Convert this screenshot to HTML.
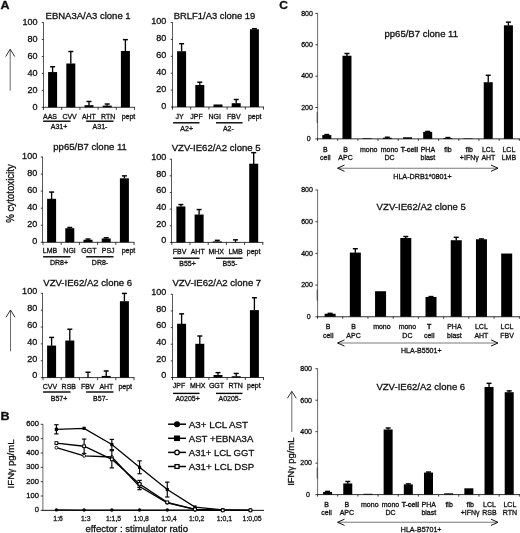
<!DOCTYPE html>
<html><head><meta charset="utf-8"><title>Figure</title>
<style>html,body{margin:0;padding:0;background:#fff}svg{display:block;filter:blur(0.42px)}text{stroke:#111;stroke-width:0.3px}</style></head><body>
<svg width="520" height="533" viewBox="0 0 520 533" font-family="&quot;Liberation Sans&quot;, sans-serif">
<rect width="520" height="533" fill="#fff"/>
<text x="0" y="0" font-size="10.7" font-weight="bold" fill="#111"  transform="translate(0.5,9.3) scale(1.17,1)">A</text>
<text x="0" y="0" font-size="10.7" font-weight="bold" fill="#111"  transform="translate(0.5,420.0) scale(1.17,1)">B</text>
<text x="0" y="0" font-size="10.7" font-weight="bold" fill="#111"  transform="translate(279.3,9.0) scale(1.12,1)">C</text>
<line x1="43.5" y1="22.3" x2="43.5" y2="107.7" stroke="#222" stroke-width="0.75" />
<line x1="43.1" y1="107.3" x2="135.0" y2="107.3" stroke="#1a1a1a" stroke-width="0.85" />
<line x1="41.8" y1="107.3" x2="43.5" y2="107.3" stroke="#111" stroke-width="0.8" />
<text x="0" y="0" font-size="8.7" text-anchor="end" fill="#111"  transform="translate(37.5,109.5) scale(1.04,1)">0</text>
<line x1="41.8" y1="90.36" x2="43.5" y2="90.36" stroke="#111" stroke-width="0.8" />
<text x="0" y="0" font-size="8.7" text-anchor="end" fill="#111"  transform="translate(37.5,92.56) scale(1.04,1)">20</text>
<line x1="41.8" y1="73.42" x2="43.5" y2="73.42" stroke="#111" stroke-width="0.8" />
<text x="0" y="0" font-size="8.7" text-anchor="end" fill="#111"  transform="translate(37.5,75.62) scale(1.04,1)">40</text>
<line x1="41.8" y1="56.480000000000004" x2="43.5" y2="56.480000000000004" stroke="#111" stroke-width="0.8" />
<text x="0" y="0" font-size="8.7" text-anchor="end" fill="#111"  transform="translate(37.5,58.68000000000001) scale(1.04,1)">60</text>
<line x1="41.8" y1="39.540000000000006" x2="43.5" y2="39.540000000000006" stroke="#111" stroke-width="0.8" />
<text x="0" y="0" font-size="8.7" text-anchor="end" fill="#111"  transform="translate(37.5,41.74000000000001) scale(1.04,1)">80</text>
<line x1="41.8" y1="22.60000000000001" x2="43.5" y2="22.60000000000001" stroke="#111" stroke-width="0.8" />
<text x="0" y="0" font-size="8.7" text-anchor="end" fill="#111"  transform="translate(37.5,24.800000000000008) scale(1.04,1)">100</text>
<line x1="43.5" y1="107.3" x2="43.5" y2="109.89999999999999" stroke="#111" stroke-width="0.8" />
<line x1="61.7" y1="107.3" x2="61.7" y2="109.89999999999999" stroke="#111" stroke-width="0.8" />
<line x1="79.9" y1="107.3" x2="79.9" y2="109.89999999999999" stroke="#111" stroke-width="0.8" />
<line x1="98.1" y1="107.3" x2="98.1" y2="109.89999999999999" stroke="#111" stroke-width="0.8" />
<line x1="116.3" y1="107.3" x2="116.3" y2="109.89999999999999" stroke="#111" stroke-width="0.8" />
<line x1="134.5" y1="107.3" x2="134.5" y2="109.89999999999999" stroke="#111" stroke-width="0.8" />
<text x="45.6" y="18.8" font-size="9.0" textLength="85" lengthAdjust="spacingAndGlyphs" fill="#111" >EBNA3A/A3 clone 1</text>
<rect x="48.10" y="72.06" width="9.00" height="35.24" fill="#000"/>
<line x1="52.6" y1="72.2648" x2="52.6" y2="66.644" stroke="#000" stroke-width="1.35" />
<line x1="50.1" y1="66.744" x2="55.1" y2="66.744" stroke="#000" stroke-width="1.45" />
<rect x="66.30" y="63.51" width="9.00" height="43.79" fill="#000"/>
<line x1="70.8" y1="63.710100000000004" x2="70.8" y2="51.398" stroke="#000" stroke-width="1.35" />
<line x1="68.3" y1="51.498000000000005" x2="73.3" y2="51.498000000000005" stroke="#000" stroke-width="1.45" />
<rect x="84.50" y="105.18" width="9.00" height="2.12" fill="#000"/>
<line x1="89.0" y1="105.38250000000001" x2="89.0" y2="101.371" stroke="#000" stroke-width="1.35" />
<line x1="86.5" y1="101.47099999999999" x2="91.5" y2="101.47099999999999" stroke="#000" stroke-width="1.45" />
<rect x="102.70" y="105.61" width="9.00" height="1.69" fill="#000"/>
<line x1="107.19999999999999" y1="105.806" x2="107.19999999999999" y2="103.91199999999999" stroke="#000" stroke-width="1.35" />
<line x1="104.69999999999999" y1="104.01199999999999" x2="109.69999999999999" y2="104.01199999999999" stroke="#000" stroke-width="1.45" />
<rect x="120.90" y="50.97" width="9.00" height="56.33" fill="#000"/>
<line x1="125.39999999999999" y1="51.17450000000001" x2="125.39999999999999" y2="39.540000000000006" stroke="#000" stroke-width="1.35" />
<line x1="122.89999999999999" y1="39.64000000000001" x2="127.89999999999999" y2="39.64000000000001" stroke="#000" stroke-width="1.45" />
<text x="50" y="119" font-size="7" text-anchor="middle" fill="#111" >AAS</text>
<text x="69.6" y="119" font-size="7" text-anchor="middle" fill="#111" >CVV</text>
<text x="88.9" y="119" font-size="7" text-anchor="middle" fill="#111" >AHT</text>
<text x="108.2" y="119" font-size="7" text-anchor="middle" fill="#111" >RTN</text>
<text x="128.5" y="119" font-size="7" text-anchor="middle" fill="#111" >pept</text>
<line x1="43.1" y1="121.2" x2="70.5" y2="121.2" stroke="#000" stroke-width="1.4" />
<text x="59" y="129" font-size="7" text-anchor="middle" fill="#111" >A31+</text>
<line x1="86.1" y1="121.2" x2="113.5" y2="121.2" stroke="#000" stroke-width="1.4" />
<text x="100" y="129" font-size="7" text-anchor="middle" fill="#111" >A31-</text>
<line x1="172.5" y1="22.2" x2="172.5" y2="107.4" stroke="#222" stroke-width="0.75" />
<line x1="172.1" y1="107" x2="264.0" y2="107" stroke="#1a1a1a" stroke-width="0.85" />
<line x1="170.8" y1="107.0" x2="172.5" y2="107.0" stroke="#111" stroke-width="0.8" />
<text x="0" y="0" font-size="8.7" text-anchor="end" fill="#111"  transform="translate(166.4,108.60000000000001) scale(1.04,1)">0</text>
<line x1="170.8" y1="90.1" x2="172.5" y2="90.1" stroke="#111" stroke-width="0.8" />
<text x="0" y="0" font-size="8.7" text-anchor="end" fill="#111"  transform="translate(166.4,91.7) scale(1.04,1)">20</text>
<line x1="170.8" y1="73.2" x2="172.5" y2="73.2" stroke="#111" stroke-width="0.8" />
<text x="0" y="0" font-size="8.7" text-anchor="end" fill="#111"  transform="translate(166.4,74.80000000000001) scale(1.04,1)">40</text>
<line x1="170.8" y1="56.300000000000004" x2="172.5" y2="56.300000000000004" stroke="#111" stroke-width="0.8" />
<text x="0" y="0" font-size="8.7" text-anchor="end" fill="#111"  transform="translate(166.4,57.900000000000006) scale(1.04,1)">60</text>
<line x1="170.8" y1="39.400000000000006" x2="172.5" y2="39.400000000000006" stroke="#111" stroke-width="0.8" />
<text x="0" y="0" font-size="8.7" text-anchor="end" fill="#111"  transform="translate(166.4,41.00000000000001) scale(1.04,1)">80</text>
<line x1="170.8" y1="22.5" x2="172.5" y2="22.5" stroke="#111" stroke-width="0.8" />
<text x="0" y="0" font-size="8.7" text-anchor="end" fill="#111"  transform="translate(166.4,24.099999999999998) scale(1.04,1)">100</text>
<line x1="172.5" y1="107" x2="172.5" y2="109.6" stroke="#111" stroke-width="0.8" />
<line x1="190.7" y1="107" x2="190.7" y2="109.6" stroke="#111" stroke-width="0.8" />
<line x1="208.9" y1="107" x2="208.9" y2="109.6" stroke="#111" stroke-width="0.8" />
<line x1="227.1" y1="107" x2="227.1" y2="109.6" stroke="#111" stroke-width="0.8" />
<line x1="245.3" y1="107" x2="245.3" y2="109.6" stroke="#111" stroke-width="0.8" />
<line x1="263.5" y1="107" x2="263.5" y2="109.6" stroke="#111" stroke-width="0.8" />
<text x="173.8" y="18.8" font-size="9.0" textLength="81.5" lengthAdjust="spacingAndGlyphs" fill="#111" >BRLF1/A3 clone 19</text>
<rect x="177.10" y="51.23" width="9.00" height="55.77" fill="#000"/>
<line x1="181.6" y1="51.43000000000001" x2="181.6" y2="43.625" stroke="#000" stroke-width="1.35" />
<line x1="179.1" y1="43.725" x2="184.1" y2="43.725" stroke="#000" stroke-width="1.45" />
<rect x="195.30" y="85.03" width="9.00" height="21.97" fill="#000"/>
<line x1="199.8" y1="85.23" x2="199.8" y2="82.0725" stroke="#000" stroke-width="1.35" />
<line x1="197.3" y1="82.1725" x2="202.3" y2="82.1725" stroke="#000" stroke-width="1.45" />
<rect x="213.50" y="104.47" width="9.00" height="2.53" fill="#000"/>
<rect x="231.70" y="103.20" width="9.00" height="3.80" fill="#000"/>
<line x1="236.2" y1="103.39750000000001" x2="236.2" y2="99.395" stroke="#000" stroke-width="1.35" />
<line x1="233.7" y1="99.49499999999999" x2="238.7" y2="99.49499999999999" stroke="#000" stroke-width="1.45" />
<rect x="249.90" y="29.26" width="9.00" height="77.74" fill="#000"/>
<line x1="254.39999999999998" y1="29.460000000000004" x2="254.39999999999998" y2="28.584000000000003" stroke="#000" stroke-width="1.35" />
<line x1="251.89999999999998" y1="28.684000000000005" x2="256.9" y2="28.684000000000005" stroke="#000" stroke-width="1.45" />
<text x="179.7" y="119.4" font-size="7" text-anchor="middle" fill="#111" >JY</text>
<text x="196.5" y="119.4" font-size="7" text-anchor="middle" fill="#111" >JPF</text>
<text x="214.8" y="119.4" font-size="7" text-anchor="middle" fill="#111" >NGI</text>
<text x="233.8" y="119.4" font-size="7" text-anchor="middle" fill="#111" >FBV</text>
<text x="254.7" y="119.4" font-size="7" text-anchor="middle" fill="#111" >pept</text>
<line x1="173.1" y1="122.8" x2="199.5" y2="122.8" stroke="#000" stroke-width="1.4" />
<text x="186.7" y="130.5" font-size="7" text-anchor="middle" fill="#111" >A2+</text>
<line x1="216.0" y1="122.8" x2="242.5" y2="122.8" stroke="#000" stroke-width="1.4" />
<text x="228.4" y="130.5" font-size="7" text-anchor="middle" fill="#111" >A2-</text>
<line x1="42.5" y1="156.7" x2="42.5" y2="242.70000000000002" stroke="#222" stroke-width="0.75" />
<line x1="42.1" y1="242.3" x2="134.5" y2="242.3" stroke="#1a1a1a" stroke-width="0.85" />
<line x1="40.8" y1="242.3" x2="42.5" y2="242.3" stroke="#111" stroke-width="0.8" />
<text x="0" y="0" font-size="8.7" text-anchor="end" fill="#111"  transform="translate(37.2,244.1) scale(1.04,1)">0</text>
<line x1="40.8" y1="225.24" x2="42.5" y2="225.24" stroke="#111" stroke-width="0.8" />
<text x="0" y="0" font-size="8.7" text-anchor="end" fill="#111"  transform="translate(37.2,227.04) scale(1.04,1)">20</text>
<line x1="40.8" y1="208.18" x2="42.5" y2="208.18" stroke="#111" stroke-width="0.8" />
<text x="0" y="0" font-size="8.7" text-anchor="end" fill="#111"  transform="translate(37.2,209.98) scale(1.04,1)">40</text>
<line x1="40.8" y1="191.12" x2="42.5" y2="191.12" stroke="#111" stroke-width="0.8" />
<text x="0" y="0" font-size="8.7" text-anchor="end" fill="#111"  transform="translate(37.2,192.92) scale(1.04,1)">60</text>
<line x1="40.8" y1="174.06" x2="42.5" y2="174.06" stroke="#111" stroke-width="0.8" />
<text x="0" y="0" font-size="8.7" text-anchor="end" fill="#111"  transform="translate(37.2,175.85999999999999) scale(1.04,1)">80</text>
<line x1="40.8" y1="157.0" x2="42.5" y2="157.0" stroke="#111" stroke-width="0.8" />
<text x="0" y="0" font-size="8.7" text-anchor="end" fill="#111"  transform="translate(37.2,158.79999999999998) scale(1.04,1)">100</text>
<line x1="43.0" y1="242.3" x2="43.0" y2="244.9" stroke="#111" stroke-width="0.8" />
<line x1="61.2" y1="242.3" x2="61.2" y2="244.9" stroke="#111" stroke-width="0.8" />
<line x1="79.4" y1="242.3" x2="79.4" y2="244.9" stroke="#111" stroke-width="0.8" />
<line x1="97.6" y1="242.3" x2="97.6" y2="244.9" stroke="#111" stroke-width="0.8" />
<line x1="115.8" y1="242.3" x2="115.8" y2="244.9" stroke="#111" stroke-width="0.8" />
<line x1="134.0" y1="242.3" x2="134.0" y2="244.9" stroke="#111" stroke-width="0.8" />
<text x="53.3" y="150" font-size="9.0" textLength="73.5" lengthAdjust="spacingAndGlyphs" fill="#111" >pp65/B7 clone 11</text>
<rect x="47.10" y="198.80" width="9.00" height="43.50" fill="#000"/>
<line x1="51.6" y1="198.99699999999999" x2="51.6" y2="191.973" stroke="#000" stroke-width="1.35" />
<line x1="49.1" y1="192.073" x2="54.1" y2="192.073" stroke="#000" stroke-width="1.45" />
<rect x="65.30" y="228.23" width="9.00" height="14.07" fill="#000"/>
<line x1="69.8" y1="228.4255" x2="69.8" y2="227.3725" stroke="#000" stroke-width="1.35" />
<line x1="67.3" y1="227.4725" x2="72.3" y2="227.4725" stroke="#000" stroke-width="1.45" />
<rect x="83.50" y="239.74" width="9.00" height="2.56" fill="#000"/>
<line x1="88.0" y1="239.941" x2="88.0" y2="238.888" stroke="#000" stroke-width="1.35" />
<line x1="85.5" y1="238.988" x2="90.5" y2="238.988" stroke="#000" stroke-width="1.45" />
<rect x="101.70" y="238.46" width="9.00" height="3.84" fill="#000"/>
<line x1="106.19999999999999" y1="238.6615" x2="106.19999999999999" y2="237.60850000000002" stroke="#000" stroke-width="1.35" />
<line x1="103.69999999999999" y1="237.70850000000002" x2="108.69999999999999" y2="237.70850000000002" stroke="#000" stroke-width="1.45" />
<rect x="119.90" y="178.32" width="9.00" height="63.98" fill="#000"/>
<line x1="124.39999999999999" y1="178.52499999999998" x2="124.39999999999999" y2="175.76600000000002" stroke="#000" stroke-width="1.35" />
<line x1="121.89999999999999" y1="175.866" x2="126.89999999999999" y2="175.866" stroke="#000" stroke-width="1.45" />
<text x="50" y="253.3" font-size="7" text-anchor="middle" fill="#111" >LMB</text>
<text x="69.6" y="253.3" font-size="7" text-anchor="middle" fill="#111" >NGI</text>
<text x="88.9" y="253.3" font-size="7" text-anchor="middle" fill="#111" >GGT</text>
<text x="108.2" y="253.3" font-size="7" text-anchor="middle" fill="#111" >PSJ</text>
<text x="128.5" y="253.3" font-size="7" text-anchor="middle" fill="#111" >pept</text>
<line x1="43.1" y1="256.8" x2="70.5" y2="256.8" stroke="#000" stroke-width="1.4" />
<text x="59" y="264.6" font-size="7" text-anchor="middle" fill="#111" >DR8+</text>
<line x1="86.1" y1="256.8" x2="113.5" y2="256.8" stroke="#000" stroke-width="1.4" />
<text x="100" y="264.6" font-size="7" text-anchor="middle" fill="#111" >DR8-</text>
<line x1="171.5" y1="158.89999999999998" x2="171.5" y2="242.8" stroke="#222" stroke-width="0.75" />
<line x1="171.1" y1="242.4" x2="263.3" y2="242.4" stroke="#1a1a1a" stroke-width="0.85" />
<line x1="169.8" y1="242.4" x2="171.5" y2="242.4" stroke="#111" stroke-width="0.8" />
<text x="0" y="0" font-size="8.7" text-anchor="end" fill="#111"  transform="translate(166.3,243.4) scale(1.04,1)">0</text>
<line x1="169.8" y1="225.76" x2="171.5" y2="225.76" stroke="#111" stroke-width="0.8" />
<text x="0" y="0" font-size="8.7" text-anchor="end" fill="#111"  transform="translate(166.3,226.76) scale(1.04,1)">20</text>
<line x1="169.8" y1="209.12" x2="171.5" y2="209.12" stroke="#111" stroke-width="0.8" />
<text x="0" y="0" font-size="8.7" text-anchor="end" fill="#111"  transform="translate(166.3,210.12) scale(1.04,1)">40</text>
<line x1="169.8" y1="192.48" x2="171.5" y2="192.48" stroke="#111" stroke-width="0.8" />
<text x="0" y="0" font-size="8.7" text-anchor="end" fill="#111"  transform="translate(166.3,193.48) scale(1.04,1)">60</text>
<line x1="169.8" y1="175.83999999999997" x2="171.5" y2="175.83999999999997" stroke="#111" stroke-width="0.8" />
<text x="0" y="0" font-size="8.7" text-anchor="end" fill="#111"  transform="translate(166.3,176.83999999999997) scale(1.04,1)">80</text>
<line x1="169.8" y1="159.2" x2="171.5" y2="159.2" stroke="#111" stroke-width="0.8" />
<text x="0" y="0" font-size="8.7" text-anchor="end" fill="#111"  transform="translate(166.3,160.2) scale(1.04,1)">100</text>
<line x1="171.8" y1="242.4" x2="171.8" y2="245.0" stroke="#111" stroke-width="0.8" />
<line x1="190.0" y1="242.4" x2="190.0" y2="245.0" stroke="#111" stroke-width="0.8" />
<line x1="208.20000000000002" y1="242.4" x2="208.20000000000002" y2="245.0" stroke="#111" stroke-width="0.8" />
<line x1="226.4" y1="242.4" x2="226.4" y2="245.0" stroke="#111" stroke-width="0.8" />
<line x1="244.60000000000002" y1="242.4" x2="244.60000000000002" y2="245.0" stroke="#111" stroke-width="0.8" />
<line x1="262.8" y1="242.4" x2="262.8" y2="245.0" stroke="#111" stroke-width="0.8" />
<text x="171.7" y="150.9" font-size="9.0" textLength="89" lengthAdjust="spacingAndGlyphs" fill="#111" >VZV-IE62/A2 clone 5</text>
<rect x="176.40" y="206.46" width="9.00" height="35.94" fill="#000"/>
<line x1="180.9" y1="206.65759999999997" x2="180.9" y2="204.4608" stroke="#000" stroke-width="1.35" />
<line x1="178.4" y1="204.5608" x2="183.4" y2="204.5608" stroke="#000" stroke-width="1.45" />
<rect x="194.60" y="214.53" width="9.00" height="27.87" fill="#000"/>
<line x1="199.10000000000002" y1="214.72799999999998" x2="199.10000000000002" y2="209.4528" stroke="#000" stroke-width="1.35" />
<line x1="196.60000000000002" y1="209.5528" x2="201.60000000000002" y2="209.5528" stroke="#000" stroke-width="1.45" />
<rect x="212.80" y="241.40" width="9.00" height="1.00" fill="#000"/>
<line x1="217.3" y1="241.6016" x2="217.3" y2="240.23680000000002" stroke="#000" stroke-width="1.35" />
<line x1="214.8" y1="240.3368" x2="219.8" y2="240.3368" stroke="#000" stroke-width="1.45" />
<rect x="231.00" y="242.15" width="9.00" height="0.25" fill="#000"/>
<line x1="235.5" y1="242.3504" x2="235.5" y2="239.73760000000001" stroke="#000" stroke-width="1.35" />
<line x1="233.0" y1="239.8376" x2="238.0" y2="239.8376" stroke="#000" stroke-width="1.45" />
<rect x="249.20" y="163.69" width="9.00" height="78.71" fill="#000"/>
<line x1="253.7" y1="163.89279999999997" x2="253.7" y2="152.54399999999998" stroke="#000" stroke-width="1.35" />
<line x1="251.2" y1="152.64399999999998" x2="256.2" y2="152.64399999999998" stroke="#000" stroke-width="1.45" />
<text x="179.6" y="253.5" font-size="7" text-anchor="middle" fill="#111" >FBV</text>
<text x="197.7" y="253.5" font-size="7" text-anchor="middle" fill="#111" >AHT</text>
<text x="216.2" y="253.5" font-size="7" text-anchor="middle" fill="#111" >MHX</text>
<text x="235.6" y="253.5" font-size="7" text-anchor="middle" fill="#111" >LMB</text>
<text x="253.6" y="253.5" font-size="7" text-anchor="middle" fill="#111" >pept</text>
<line x1="173.1" y1="258.2" x2="199.5" y2="258.2" stroke="#000" stroke-width="1.4" />
<text x="187.5" y="266" font-size="7" text-anchor="middle" fill="#111" >B55+</text>
<line x1="216.0" y1="258.2" x2="242.5" y2="258.2" stroke="#000" stroke-width="1.4" />
<text x="230" y="266" font-size="7" text-anchor="middle" fill="#111" >B55-</text>
<line x1="42.5" y1="293.0" x2="42.5" y2="378.0" stroke="#222" stroke-width="0.75" />
<line x1="42.1" y1="377.6" x2="134.5" y2="377.6" stroke="#1a1a1a" stroke-width="0.85" />
<line x1="40.8" y1="377.6" x2="42.5" y2="377.6" stroke="#111" stroke-width="0.8" />
<text x="0" y="0" font-size="8.7" text-anchor="end" fill="#111"  transform="translate(37.2,378.40000000000003) scale(1.04,1)">0</text>
<line x1="40.8" y1="360.74" x2="42.5" y2="360.74" stroke="#111" stroke-width="0.8" />
<text x="0" y="0" font-size="8.7" text-anchor="end" fill="#111"  transform="translate(37.2,361.54) scale(1.04,1)">20</text>
<line x1="40.8" y1="343.88" x2="42.5" y2="343.88" stroke="#111" stroke-width="0.8" />
<text x="0" y="0" font-size="8.7" text-anchor="end" fill="#111"  transform="translate(37.2,344.68) scale(1.04,1)">40</text>
<line x1="40.8" y1="327.02" x2="42.5" y2="327.02" stroke="#111" stroke-width="0.8" />
<text x="0" y="0" font-size="8.7" text-anchor="end" fill="#111"  transform="translate(37.2,327.82) scale(1.04,1)">60</text>
<line x1="40.8" y1="310.16" x2="42.5" y2="310.16" stroke="#111" stroke-width="0.8" />
<text x="0" y="0" font-size="8.7" text-anchor="end" fill="#111"  transform="translate(37.2,310.96000000000004) scale(1.04,1)">80</text>
<line x1="40.8" y1="293.3" x2="42.5" y2="293.3" stroke="#111" stroke-width="0.8" />
<text x="0" y="0" font-size="8.7" text-anchor="end" fill="#111"  transform="translate(37.2,294.1) scale(1.04,1)">100</text>
<line x1="43.0" y1="377.6" x2="43.0" y2="380.20000000000005" stroke="#111" stroke-width="0.8" />
<line x1="61.2" y1="377.6" x2="61.2" y2="380.20000000000005" stroke="#111" stroke-width="0.8" />
<line x1="79.4" y1="377.6" x2="79.4" y2="380.20000000000005" stroke="#111" stroke-width="0.8" />
<line x1="97.6" y1="377.6" x2="97.6" y2="380.20000000000005" stroke="#111" stroke-width="0.8" />
<line x1="115.8" y1="377.6" x2="115.8" y2="380.20000000000005" stroke="#111" stroke-width="0.8" />
<line x1="134.0" y1="377.6" x2="134.0" y2="380.20000000000005" stroke="#111" stroke-width="0.8" />
<text x="43.3" y="285.7" font-size="9.0" textLength="88.8" lengthAdjust="spacingAndGlyphs" fill="#111" >VZV-IE62/A2 clone 6</text>
<rect x="47.10" y="345.57" width="9.00" height="32.03" fill="#000"/>
<line x1="51.6" y1="345.766" x2="51.6" y2="337.30460000000005" stroke="#000" stroke-width="1.35" />
<line x1="49.1" y1="337.4046000000001" x2="54.1" y2="337.4046000000001" stroke="#000" stroke-width="1.45" />
<rect x="65.30" y="340.51" width="9.00" height="37.09" fill="#000"/>
<line x1="69.8" y1="340.708" x2="69.8" y2="329.1275" stroke="#000" stroke-width="1.35" />
<line x1="67.3" y1="329.2275" x2="72.3" y2="329.2275" stroke="#000" stroke-width="1.45" />
<rect x="83.50" y="377.35" width="9.00" height="0.25" fill="#000"/>
<line x1="88.0" y1="377.5471" x2="88.0" y2="372.12050000000005" stroke="#000" stroke-width="1.35" />
<line x1="85.5" y1="372.2205000000001" x2="90.5" y2="372.2205000000001" stroke="#000" stroke-width="1.45" />
<rect x="101.70" y="375.91" width="9.00" height="1.69" fill="#000"/>
<line x1="106.19999999999999" y1="376.11400000000003" x2="106.19999999999999" y2="370.856" stroke="#000" stroke-width="1.35" />
<line x1="103.69999999999999" y1="370.956" x2="108.69999999999999" y2="370.956" stroke="#000" stroke-width="1.45" />
<rect x="119.90" y="301.22" width="9.00" height="76.38" fill="#000"/>
<line x1="124.39999999999999" y1="301.4242" x2="124.39999999999999" y2="293.3" stroke="#000" stroke-width="1.35" />
<line x1="121.89999999999999" y1="293.40000000000003" x2="126.89999999999999" y2="293.40000000000003" stroke="#000" stroke-width="1.45" />
<text x="50" y="388.7" font-size="7" text-anchor="middle" fill="#111" >CVV</text>
<text x="68.8" y="388.7" font-size="7" text-anchor="middle" fill="#111" >RSB</text>
<text x="87.7" y="388.7" font-size="7" text-anchor="middle" fill="#111" >FBV</text>
<text x="106.4" y="388.7" font-size="7" text-anchor="middle" fill="#111" >AHT</text>
<text x="125.2" y="388.7" font-size="7" text-anchor="middle" fill="#111" >pept</text>
<line x1="43.1" y1="392" x2="70.5" y2="392" stroke="#000" stroke-width="1.4" />
<text x="59" y="400.6" font-size="7" text-anchor="middle" fill="#111" >B57+</text>
<line x1="86.1" y1="392" x2="113.5" y2="392" stroke="#000" stroke-width="1.4" />
<text x="100.5" y="400.6" font-size="7" text-anchor="middle" fill="#111" >B57-</text>
<line x1="172.5" y1="294.0" x2="172.5" y2="377.9" stroke="#222" stroke-width="0.75" />
<line x1="172.1" y1="377.5" x2="264.0" y2="377.5" stroke="#1a1a1a" stroke-width="0.85" />
<line x1="170.8" y1="377.5" x2="172.5" y2="377.5" stroke="#111" stroke-width="0.8" />
<text x="0" y="0" font-size="8.7" text-anchor="end" fill="#111"  transform="translate(166.4,378.2) scale(1.04,1)">0</text>
<line x1="170.8" y1="360.86" x2="172.5" y2="360.86" stroke="#111" stroke-width="0.8" />
<text x="0" y="0" font-size="8.7" text-anchor="end" fill="#111"  transform="translate(166.4,361.56) scale(1.04,1)">20</text>
<line x1="170.8" y1="344.22" x2="172.5" y2="344.22" stroke="#111" stroke-width="0.8" />
<text x="0" y="0" font-size="8.7" text-anchor="end" fill="#111"  transform="translate(166.4,344.92) scale(1.04,1)">40</text>
<line x1="170.8" y1="327.58000000000004" x2="172.5" y2="327.58000000000004" stroke="#111" stroke-width="0.8" />
<text x="0" y="0" font-size="8.7" text-anchor="end" fill="#111"  transform="translate(166.4,328.28000000000003) scale(1.04,1)">60</text>
<line x1="170.8" y1="310.94" x2="172.5" y2="310.94" stroke="#111" stroke-width="0.8" />
<text x="0" y="0" font-size="8.7" text-anchor="end" fill="#111"  transform="translate(166.4,311.64) scale(1.04,1)">80</text>
<line x1="170.8" y1="294.3" x2="172.5" y2="294.3" stroke="#111" stroke-width="0.8" />
<text x="0" y="0" font-size="8.7" text-anchor="end" fill="#111"  transform="translate(166.4,295.0) scale(1.04,1)">100</text>
<line x1="172.5" y1="377.5" x2="172.5" y2="380.1" stroke="#111" stroke-width="0.8" />
<line x1="190.7" y1="377.5" x2="190.7" y2="380.1" stroke="#111" stroke-width="0.8" />
<line x1="208.9" y1="377.5" x2="208.9" y2="380.1" stroke="#111" stroke-width="0.8" />
<line x1="227.1" y1="377.5" x2="227.1" y2="380.1" stroke="#111" stroke-width="0.8" />
<line x1="245.3" y1="377.5" x2="245.3" y2="380.1" stroke="#111" stroke-width="0.8" />
<line x1="263.5" y1="377.5" x2="263.5" y2="380.1" stroke="#111" stroke-width="0.8" />
<text x="172.4" y="285.6" font-size="9.0" textLength="88.8" lengthAdjust="spacingAndGlyphs" fill="#111" >VZV-IE62/A2 clone 7</text>
<rect x="177.10" y="323.75" width="9.00" height="53.75" fill="#000"/>
<line x1="181.6" y1="323.9528" x2="181.6" y2="313.7688" stroke="#000" stroke-width="1.35" />
<line x1="179.1" y1="313.8688" x2="184.1" y2="313.8688" stroke="#000" stroke-width="1.45" />
<rect x="195.30" y="343.80" width="9.00" height="33.70" fill="#000"/>
<line x1="199.8" y1="344.004" x2="199.8" y2="335.9" stroke="#000" stroke-width="1.35" />
<line x1="197.3" y1="336.0" x2="202.3" y2="336.0" stroke="#000" stroke-width="1.45" />
<rect x="213.50" y="375.00" width="9.00" height="2.50" fill="#000"/>
<line x1="218.0" y1="375.204" x2="218.0" y2="372.508" stroke="#000" stroke-width="1.35" />
<line x1="215.5" y1="372.608" x2="220.5" y2="372.608" stroke="#000" stroke-width="1.45" />
<rect x="231.70" y="376.25" width="9.00" height="1.25" fill="#000"/>
<line x1="236.2" y1="376.452" x2="236.2" y2="373.34" stroke="#000" stroke-width="1.35" />
<line x1="233.7" y1="373.44" x2="238.7" y2="373.44" stroke="#000" stroke-width="1.45" />
<rect x="249.90" y="310.11" width="9.00" height="67.39" fill="#000"/>
<line x1="254.39999999999998" y1="310.308" x2="254.39999999999998" y2="297.62800000000004" stroke="#000" stroke-width="1.35" />
<line x1="251.89999999999998" y1="297.72800000000007" x2="256.9" y2="297.72800000000007" stroke="#000" stroke-width="1.45" />
<text x="179" y="388.4" font-size="7" text-anchor="middle" fill="#111" >JPF</text>
<text x="197.7" y="388.4" font-size="7" text-anchor="middle" fill="#111" >MHX</text>
<text x="216.5" y="388.4" font-size="7" text-anchor="middle" fill="#111" >GGT</text>
<text x="235.6" y="388.4" font-size="7" text-anchor="middle" fill="#111" >RTN</text>
<text x="253.8" y="388.4" font-size="7" text-anchor="middle" fill="#111" >pept</text>
<line x1="173.1" y1="393.4" x2="199.5" y2="393.4" stroke="#000" stroke-width="1.4" />
<text x="187.6" y="401.3" font-size="7" text-anchor="middle" fill="#111" >A0205+</text>
<line x1="216.0" y1="393.4" x2="242.5" y2="393.4" stroke="#000" stroke-width="1.4" />
<text x="229.8" y="401.3" font-size="7" text-anchor="middle" fill="#111" >A0205-</text>
<line x1="10.2" y1="49.7" x2="10.2" y2="90.7" stroke="#6a6a6a" stroke-width="1.0" />
<polyline points="5.699999999999999,56.5 10.2,49.2 14.7,56.5" fill="none" stroke="#1a1a1a" stroke-width="0.9"/>
<line x1="10.5" y1="310.5" x2="10.5" y2="351.3" stroke="#6a6a6a" stroke-width="1.0" />
<polyline points="6.0,317.3 10.5,310 15.0,317.3" fill="none" stroke="#1a1a1a" stroke-width="0.9"/>
<text transform="translate(14.3,222.8) rotate(-90)" font-size="10.2" textLength="58.6" lengthAdjust="spacingAndGlyphs" fill="#111">% cytotoxicity</text>
<line x1="42.9" y1="424.0" x2="42.9" y2="510.75" stroke="#2a2a2a" stroke-width="0.7" />
<line x1="42.5" y1="510.35" x2="264" y2="510.35" stroke="#111" stroke-width="1.0" />
<line x1="40.699999999999996" y1="510.35" x2="42.9" y2="510.35" stroke="#111" stroke-width="0.8" />
<text x="0" y="0" font-size="7.1" text-anchor="end" fill="#111"  transform="translate(39.0,512.45) scale(1.07,1)">0</text>
<line x1="40.699999999999996" y1="496.0083333333333" x2="42.9" y2="496.0083333333333" stroke="#111" stroke-width="0.8" />
<text x="0" y="0" font-size="7.1" text-anchor="end" fill="#111"  transform="translate(39.0,498.10833333333335) scale(1.07,1)">100</text>
<line x1="40.699999999999996" y1="481.6666666666667" x2="42.9" y2="481.6666666666667" stroke="#111" stroke-width="0.8" />
<text x="0" y="0" font-size="7.1" text-anchor="end" fill="#111"  transform="translate(39.0,483.7666666666667) scale(1.07,1)">200</text>
<line x1="40.699999999999996" y1="467.32500000000005" x2="42.9" y2="467.32500000000005" stroke="#111" stroke-width="0.8" />
<text x="0" y="0" font-size="7.1" text-anchor="end" fill="#111"  transform="translate(39.0,469.42500000000007) scale(1.07,1)">300</text>
<line x1="40.699999999999996" y1="452.98333333333335" x2="42.9" y2="452.98333333333335" stroke="#111" stroke-width="0.8" />
<text x="0" y="0" font-size="7.1" text-anchor="end" fill="#111"  transform="translate(39.0,455.08333333333337) scale(1.07,1)">400</text>
<line x1="40.699999999999996" y1="438.64166666666665" x2="42.9" y2="438.64166666666665" stroke="#111" stroke-width="0.8" />
<text x="0" y="0" font-size="7.1" text-anchor="end" fill="#111"  transform="translate(39.0,440.7416666666667) scale(1.07,1)">500</text>
<line x1="40.699999999999996" y1="424.3" x2="42.9" y2="424.3" stroke="#111" stroke-width="0.8" />
<text x="0" y="0" font-size="7.1" text-anchor="end" fill="#111"  transform="translate(39.0,426.40000000000003) scale(1.07,1)">600</text>
<text x="58.1" y="520.6" font-size="6.9" text-anchor="middle" fill="#333" >1:6</text>
<text x="85.82000000000001" y="520.6" font-size="6.9" text-anchor="middle" fill="#333" >1:3</text>
<text x="113.54" y="520.6" font-size="6.9" text-anchor="middle" fill="#333" >1:1,5</text>
<text x="141.26" y="520.6" font-size="6.9" text-anchor="middle" fill="#333" >1:0,8</text>
<text x="168.98" y="520.6" font-size="6.9" text-anchor="middle" fill="#333" >1:0,4</text>
<text x="196.7" y="520.6" font-size="6.9" text-anchor="middle" fill="#333" >1:0,2</text>
<text x="224.42" y="520.6" font-size="6.9" text-anchor="middle" fill="#333" >1:0,1</text>
<text x="252.14" y="520.6" font-size="6.9" text-anchor="middle" fill="#333" >1:0,05</text>
<text x="85.5" y="532.2" font-size="9.6" textLength="102.5" lengthAdjust="spacingAndGlyphs" fill="#111">effector : stimulator ratio</text>
<text transform="translate(13.8,488.4) rotate(-90)" font-size="9.6" fill="#111">IFN<tspan font-size="8.4">γ</tspan> pg/mL</text>
<polyline points="56.40,509.92 84.12,510.06 111.84,510.06 139.56,510.06 167.28,510.06 195.00,510.06 222.72,510.21 250.44,510.35" fill="none" stroke="#000" stroke-width="1.3"/>
<circle cx="56.40" cy="509.92" r="1.7" fill="#000"/>
<circle cx="84.12" cy="510.06" r="1.7" fill="#000"/>
<circle cx="111.84" cy="510.06" r="1.7" fill="#000"/>
<circle cx="139.56" cy="510.06" r="1.7" fill="#000"/>
<circle cx="167.28" cy="510.06" r="1.7" fill="#000"/>
<circle cx="195.00" cy="510.06" r="1.7" fill="#000"/>
<circle cx="222.72" cy="510.21" r="1.7" fill="#000"/>
<circle cx="250.44" cy="510.35" r="1.7" fill="#000"/>
<polyline points="56.40,429.32 84.12,428.32 111.84,444.52 139.56,467.33 167.28,489.55 195.00,507.05 222.72,509.78 250.44,510.35" fill="none" stroke="#000" stroke-width="1.3"/>
<line x1="56.40" y1="424.73" x2="56.40" y2="433.91" stroke="#000" stroke-width="1.15" />
<line x1="54.20" y1="424.73" x2="58.60" y2="424.73" stroke="#000" stroke-width="1.15" />
<line x1="54.20" y1="433.91" x2="58.60" y2="433.91" stroke="#000" stroke-width="1.15" />
<line x1="111.84" y1="439.36" x2="111.84" y2="449.68" stroke="#000" stroke-width="1.15" />
<line x1="109.64" y1="439.36" x2="114.04" y2="439.36" stroke="#000" stroke-width="1.15" />
<line x1="109.64" y1="449.68" x2="114.04" y2="449.68" stroke="#000" stroke-width="1.15" />
<line x1="139.56" y1="460.87" x2="139.56" y2="473.78" stroke="#000" stroke-width="1.15" />
<line x1="137.36" y1="460.87" x2="141.76" y2="460.87" stroke="#000" stroke-width="1.15" />
<line x1="137.36" y1="473.78" x2="141.76" y2="473.78" stroke="#000" stroke-width="1.15" />
<line x1="167.28" y1="482.10" x2="167.28" y2="497.01" stroke="#000" stroke-width="1.15" />
<line x1="165.08" y1="482.10" x2="169.48" y2="482.10" stroke="#000" stroke-width="1.15" />
<line x1="165.08" y1="497.01" x2="169.48" y2="497.01" stroke="#000" stroke-width="1.15" />
<rect x="54.80" y="427.72" width="3.20" height="3.20" fill="#000"/>
<rect x="82.52" y="426.72" width="3.20" height="3.20" fill="#000"/>
<rect x="110.24" y="442.92" width="3.20" height="3.20" fill="#000"/>
<rect x="137.96" y="465.73" width="3.20" height="3.20" fill="#000"/>
<rect x="165.68" y="487.95" width="3.20" height="3.20" fill="#000"/>
<rect x="193.40" y="505.45" width="3.20" height="3.20" fill="#000"/>
<rect x="221.12" y="508.18" width="3.20" height="3.20" fill="#000"/>
<rect x="248.84" y="508.75" width="3.20" height="3.20" fill="#000"/>
<polyline points="56.40,447.68 84.12,455.85 111.84,457.00 139.56,486.54 167.28,502.89 195.00,509.35 222.72,510.35 250.44,510.35" fill="none" stroke="#000" stroke-width="1.3"/>
<line x1="139.56" y1="483.39" x2="139.56" y2="489.70" stroke="#000" stroke-width="1.15" />
<line x1="137.36" y1="483.39" x2="141.76" y2="483.39" stroke="#000" stroke-width="1.15" />
<line x1="137.36" y1="489.70" x2="141.76" y2="489.70" stroke="#000" stroke-width="1.15" />
<circle cx="56.40" cy="447.68" r="1.45" fill="#fff" stroke="#000" stroke-width="0.9"/>
<circle cx="84.12" cy="455.85" r="1.45" fill="#fff" stroke="#000" stroke-width="0.9"/>
<circle cx="111.84" cy="457.00" r="1.45" fill="#fff" stroke="#000" stroke-width="0.9"/>
<circle cx="139.56" cy="486.54" r="1.45" fill="#fff" stroke="#000" stroke-width="0.9"/>
<circle cx="167.28" cy="502.89" r="1.45" fill="#fff" stroke="#000" stroke-width="0.9"/>
<circle cx="195.00" cy="509.35" r="1.45" fill="#fff" stroke="#000" stroke-width="0.9"/>
<circle cx="222.72" cy="510.35" r="1.45" fill="#fff" stroke="#000" stroke-width="0.9"/>
<circle cx="250.44" cy="510.35" r="1.45" fill="#fff" stroke="#000" stroke-width="0.9"/>
<polyline points="56.40,443.09 84.12,446.24 111.84,459.29 139.56,483.96 167.28,502.32 195.00,509.35 222.72,510.35 250.44,510.35" fill="none" stroke="#000" stroke-width="1.3"/>
<line x1="84.12" y1="439.07" x2="84.12" y2="453.41" stroke="#000" stroke-width="1.15" />
<line x1="81.92" y1="439.07" x2="86.32" y2="439.07" stroke="#000" stroke-width="1.15" />
<line x1="81.92" y1="453.41" x2="86.32" y2="453.41" stroke="#000" stroke-width="1.15" />
<line x1="111.84" y1="450.69" x2="111.84" y2="467.90" stroke="#000" stroke-width="1.15" />
<line x1="109.64" y1="450.69" x2="114.04" y2="450.69" stroke="#000" stroke-width="1.15" />
<line x1="109.64" y1="467.90" x2="114.04" y2="467.90" stroke="#000" stroke-width="1.15" />
<line x1="139.56" y1="480.38" x2="139.56" y2="487.55" stroke="#000" stroke-width="1.15" />
<line x1="137.36" y1="480.38" x2="141.76" y2="480.38" stroke="#000" stroke-width="1.15" />
<line x1="137.36" y1="487.55" x2="141.76" y2="487.55" stroke="#000" stroke-width="1.15" />
<rect x="55.00" y="441.69" width="2.8" height="2.8" fill="#fff" stroke="#000" stroke-width="0.95"/>
<rect x="82.72" y="444.84" width="2.8" height="2.8" fill="#fff" stroke="#000" stroke-width="0.95"/>
<rect x="110.44" y="457.89" width="2.8" height="2.8" fill="#fff" stroke="#000" stroke-width="0.95"/>
<rect x="138.16" y="482.56" width="2.8" height="2.8" fill="#fff" stroke="#000" stroke-width="0.95"/>
<rect x="165.88" y="500.92" width="2.8" height="2.8" fill="#fff" stroke="#000" stroke-width="0.95"/>
<rect x="193.60" y="507.95" width="2.8" height="2.8" fill="#fff" stroke="#000" stroke-width="0.95"/>
<rect x="221.32" y="508.95" width="2.8" height="2.8" fill="#fff" stroke="#000" stroke-width="0.95"/>
<rect x="249.04" y="508.95" width="2.8" height="2.8" fill="#fff" stroke="#000" stroke-width="0.95"/>
<line x1="168.1" y1="424.2" x2="186.0" y2="424.2" stroke="#000" stroke-width="1.5" />
<circle cx="177.00" cy="424.20" r="3.0" fill="#000"/>
<text x="188.8" y="427.5" font-size="9.9" textLength="59.3" lengthAdjust="spacingAndGlyphs" fill="#111" >A3+ LCL AST</text>
<line x1="168.1" y1="438.3" x2="186.0" y2="438.3" stroke="#000" stroke-width="1.5" />
<rect x="174.00" y="435.50" width="6.00" height="5.60" fill="#000"/>
<text x="188.8" y="441.6" font-size="9.9" textLength="64.5" lengthAdjust="spacingAndGlyphs" fill="#111" >AST +EBNA3A</text>
<line x1="168.1" y1="452.4" x2="186.0" y2="452.4" stroke="#000" stroke-width="1.5" />
<circle cx="177.00" cy="452.40" r="2.25" fill="#fff" stroke="#000" stroke-width="1.3"/>
<text x="188.8" y="455.7" font-size="9.9" textLength="65.4" lengthAdjust="spacingAndGlyphs" fill="#111" >A31+ LCL GGT</text>
<line x1="168.1" y1="466.5" x2="186.0" y2="466.5" stroke="#000" stroke-width="1.5" />
<rect x="175.00" y="464.60" width="4.0" height="3.8" fill="#fff" stroke="#000" stroke-width="1.3"/>
<text x="188.8" y="469.8" font-size="9.9" textLength="65.4" lengthAdjust="spacingAndGlyphs" fill="#111" >A31+ LCL DSP</text>
<line x1="317.6" y1="13.1" x2="317.6" y2="139.25" stroke="#2a2a2a" stroke-width="0.7" />
<line x1="317.20000000000005" y1="138.85" x2="520" y2="138.85" stroke="#1a1a1a" stroke-width="0.9" />
<line x1="315.40000000000003" y1="138.85" x2="317.6" y2="138.85" stroke="#111" stroke-width="0.8" />
<text x="310.70000000000005" y="141.15" font-size="7.0" text-anchor="end" fill="#111" >0</text>
<line x1="315.40000000000003" y1="107.4875" x2="317.6" y2="107.4875" stroke="#111" stroke-width="0.8" />
<text x="312.90000000000003" y="109.7875" font-size="7.0" text-anchor="end" fill="#111" >200</text>
<line x1="315.40000000000003" y1="76.125" x2="317.6" y2="76.125" stroke="#111" stroke-width="0.8" />
<text x="312.90000000000003" y="78.425" font-size="7.0" text-anchor="end" fill="#111" >400</text>
<line x1="315.40000000000003" y1="44.7625" x2="317.6" y2="44.7625" stroke="#111" stroke-width="0.8" />
<text x="312.90000000000003" y="47.0625" font-size="7.0" text-anchor="end" fill="#111" >600</text>
<line x1="315.40000000000003" y1="13.400000000000006" x2="317.6" y2="13.400000000000006" stroke="#111" stroke-width="0.8" />
<text x="312.90000000000003" y="15.700000000000006" font-size="7.0" text-anchor="end" fill="#111" >800</text>
<line x1="317.15000000000003" y1="111.9875" x2="317.15000000000003" y2="122.9875" stroke="#222" stroke-width="0.7" />
<line x1="317.5" y1="138.85" x2="317.5" y2="140.85" stroke="#111" stroke-width="0.8" />
<line x1="337.68" y1="138.85" x2="337.68" y2="140.85" stroke="#111" stroke-width="0.8" />
<line x1="357.86" y1="138.85" x2="357.86" y2="140.85" stroke="#111" stroke-width="0.8" />
<line x1="378.03999999999996" y1="138.85" x2="378.03999999999996" y2="140.85" stroke="#111" stroke-width="0.8" />
<line x1="398.21999999999997" y1="138.85" x2="398.21999999999997" y2="140.85" stroke="#111" stroke-width="0.8" />
<line x1="418.4" y1="138.85" x2="418.4" y2="140.85" stroke="#111" stroke-width="0.8" />
<line x1="438.58" y1="138.85" x2="438.58" y2="140.85" stroke="#111" stroke-width="0.8" />
<line x1="458.76" y1="138.85" x2="458.76" y2="140.85" stroke="#111" stroke-width="0.8" />
<line x1="478.93999999999994" y1="138.85" x2="478.93999999999994" y2="140.85" stroke="#111" stroke-width="0.8" />
<line x1="499.12" y1="138.85" x2="499.12" y2="140.85" stroke="#111" stroke-width="0.8" />
<line x1="519.3" y1="138.85" x2="519.3" y2="140.85" stroke="#111" stroke-width="0.8" />
<text x="384.5" y="36.8" font-size="9.3" textLength="73.5" lengthAdjust="spacingAndGlyphs" fill="#111" >pp65/B7 clone 11</text>
<rect x="322.29" y="135.09" width="9.00" height="3.76" fill="#000"/>
<line x1="326.78999999999996" y1="135.2865" x2="326.78999999999996" y2="134.45925" stroke="#000" stroke-width="1.35" />
<line x1="324.28999999999996" y1="134.55925" x2="329.28999999999996" y2="134.55925" stroke="#000" stroke-width="1.45" />
<text x="325.3" y="151.9" font-size="7" text-anchor="middle" fill="#111" >B</text>
<text x="325.3" y="160.1" font-size="7" text-anchor="middle" fill="#111" >cell</text>
<rect x="342.47" y="55.74" width="9.00" height="83.11" fill="#000"/>
<line x1="346.96999999999997" y1="55.939375" x2="346.96999999999997" y2="53.387187499999996" stroke="#000" stroke-width="1.35" />
<line x1="344.46999999999997" y1="53.4871875" x2="349.46999999999997" y2="53.4871875" stroke="#000" stroke-width="1.45" />
<text x="345.5" y="151.9" font-size="7" text-anchor="middle" fill="#111" >B</text>
<text x="345.5" y="160.1" font-size="7" text-anchor="middle" fill="#111" >APC</text>
<rect x="362.65" y="138.22" width="9.00" height="0.63" fill="#000"/>
<text x="368.7" y="151.9" font-size="7" text-anchor="middle" fill="#111" >mono</text>
<rect x="382.83" y="137.75" width="9.00" height="1.10" fill="#000"/>
<line x1="387.33" y1="137.95231249999998" x2="387.33" y2="137.12506249999998" stroke="#000" stroke-width="1.35" />
<line x1="384.83" y1="137.22506249999998" x2="389.83" y2="137.22506249999998" stroke="#000" stroke-width="1.45" />
<text x="389.5" y="151.9" font-size="7" text-anchor="middle" fill="#111" >mono</text>
<text x="389.5" y="160.1" font-size="7" text-anchor="middle" fill="#111" >DC</text>
<rect x="403.01" y="137.28" width="9.00" height="1.57" fill="#000"/>
<text x="400.79999999999995" y="151.9" font-size="7" font-weight="bold" textLength="17.3" lengthAdjust="spacingAndGlyphs" fill="#111" >T-cell</text>
<rect x="423.19" y="131.86" width="9.00" height="6.99" fill="#000"/>
<line x1="427.69" y1="132.05616249999997" x2="427.69" y2="131.323" stroke="#000" stroke-width="1.35" />
<line x1="425.19" y1="131.423" x2="430.19" y2="131.423" stroke="#000" stroke-width="1.45" />
<text x="427.9" y="151.9" font-size="7" text-anchor="middle" fill="#111" >PHA</text>
<text x="427.9" y="160.1" font-size="7" text-anchor="middle" fill="#111" >blast</text>
<rect x="443.37" y="138.07" width="9.00" height="0.78" fill="#000"/>
<line x1="447.86999999999995" y1="138.26593749999998" x2="447.86999999999995" y2="137.4386875" stroke="#000" stroke-width="1.35" />
<line x1="445.36999999999995" y1="137.53868749999998" x2="450.36999999999995" y2="137.53868749999998" stroke="#000" stroke-width="1.45" />
<text x="448" y="151.9" font-size="7" text-anchor="middle" fill="#111" >fib</text>
<rect x="463.55" y="138.38" width="9.00" height="0.47" fill="#000"/>
<text x="469.3" y="151.9" font-size="7" text-anchor="middle" fill="#111" >fib</text>
<text x="469.3" y="160.1" font-size="7" text-anchor="middle" fill="#111" >+IFNγ</text>
<rect x="483.73" y="82.24" width="9.00" height="56.61" fill="#000"/>
<line x1="488.22999999999996" y1="82.44068750000001" x2="488.22999999999996" y2="75.184125" stroke="#000" stroke-width="1.35" />
<line x1="485.72999999999996" y1="75.28412499999999" x2="490.72999999999996" y2="75.28412499999999" stroke="#000" stroke-width="1.45" />
<text x="488.4" y="151.9" font-size="7" text-anchor="middle" fill="#111" >LCL</text>
<text x="488.4" y="160.1" font-size="7" text-anchor="middle" fill="#111" >AHT</text>
<rect x="503.91" y="25.32" width="9.00" height="113.53" fill="#000"/>
<line x1="508.4099999999999" y1="25.517750000000003" x2="508.4099999999999" y2="22.0246875" stroke="#000" stroke-width="1.35" />
<line x1="505.9099999999999" y1="22.1246875" x2="510.9099999999999" y2="22.1246875" stroke="#000" stroke-width="1.45" />
<text x="508.9" y="151.9" font-size="7" text-anchor="middle" fill="#111" >LCL</text>
<text x="508.9" y="160.1" font-size="7" text-anchor="middle" fill="#111" >LMB</text>
<line x1="338.1" y1="168.2" x2="497.4" y2="168.2" stroke="#7a7a7a" stroke-width="1.1" />
<polyline points="344.5,165.1 337.5,168.2 344.5,171.29999999999998" fill="none" stroke="#111" stroke-width="1.0"/>
<polyline points="491.0,165.1 498,168.2 491.0,171.29999999999998" fill="none" stroke="#111" stroke-width="1.0"/>
<text x="393.2" y="178.5" font-size="7.4" textLength="58.5" lengthAdjust="spacingAndGlyphs" fill="#111" >HLA-DRB1*0801+</text>
<line x1="317.6" y1="189.7" x2="317.6" y2="317.15" stroke="#2a2a2a" stroke-width="0.7" />
<line x1="317.20000000000005" y1="316.75" x2="520" y2="316.75" stroke="#1a1a1a" stroke-width="0.9" />
<line x1="315.40000000000003" y1="316.75" x2="317.6" y2="316.75" stroke="#111" stroke-width="0.8" />
<text x="310.70000000000005" y="319.05" font-size="7.0" text-anchor="end" fill="#111" >0</text>
<line x1="315.40000000000003" y1="285.0625" x2="317.6" y2="285.0625" stroke="#111" stroke-width="0.8" />
<text x="312.90000000000003" y="287.3625" font-size="7.0" text-anchor="end" fill="#111" >200</text>
<line x1="315.40000000000003" y1="253.375" x2="317.6" y2="253.375" stroke="#111" stroke-width="0.8" />
<text x="312.90000000000003" y="255.675" font-size="7.0" text-anchor="end" fill="#111" >400</text>
<line x1="315.40000000000003" y1="221.6875" x2="317.6" y2="221.6875" stroke="#111" stroke-width="0.8" />
<text x="312.90000000000003" y="223.9875" font-size="7.0" text-anchor="end" fill="#111" >600</text>
<line x1="315.40000000000003" y1="190.0" x2="317.6" y2="190.0" stroke="#111" stroke-width="0.8" />
<text x="312.90000000000003" y="192.3" font-size="7.0" text-anchor="end" fill="#111" >800</text>
<line x1="317.15000000000003" y1="289.5625" x2="317.15000000000003" y2="300.5625" stroke="#222" stroke-width="0.7" />
<line x1="317.5" y1="316.75" x2="317.5" y2="318.75" stroke="#111" stroke-width="0.8" />
<line x1="342.725" y1="316.75" x2="342.725" y2="318.75" stroke="#111" stroke-width="0.8" />
<line x1="367.95" y1="316.75" x2="367.95" y2="318.75" stroke="#111" stroke-width="0.8" />
<line x1="393.17499999999995" y1="316.75" x2="393.17499999999995" y2="318.75" stroke="#111" stroke-width="0.8" />
<line x1="418.4" y1="316.75" x2="418.4" y2="318.75" stroke="#111" stroke-width="0.8" />
<line x1="443.625" y1="316.75" x2="443.625" y2="318.75" stroke="#111" stroke-width="0.8" />
<line x1="468.84999999999997" y1="316.75" x2="468.84999999999997" y2="318.75" stroke="#111" stroke-width="0.8" />
<line x1="494.07499999999993" y1="316.75" x2="494.07499999999993" y2="318.75" stroke="#111" stroke-width="0.8" />
<line x1="519.3" y1="316.75" x2="519.3" y2="318.75" stroke="#111" stroke-width="0.8" />
<text x="376.6" y="209.8" font-size="9.3" textLength="89.3" lengthAdjust="spacingAndGlyphs" fill="#111" >VZV-IE62/A2 clone 5</text>
<rect x="324.61" y="313.74" width="11.00" height="3.01" fill="#000"/>
<line x1="330.1125" y1="313.9396875" x2="330.1125" y2="313.264375" stroke="#000" stroke-width="1.35" />
<line x1="327.6125" y1="313.364375" x2="332.6125" y2="313.364375" stroke="#000" stroke-width="1.45" />
<text x="328.2" y="329.1" font-size="7" text-anchor="middle" fill="#111" >B</text>
<text x="328.2" y="337.5" font-size="7" text-anchor="middle" fill="#111" >cell</text>
<rect x="349.84" y="252.58" width="11.00" height="64.17" fill="#000"/>
<line x1="355.3375" y1="252.78281249999998" x2="355.3375" y2="248.621875" stroke="#000" stroke-width="1.35" />
<line x1="352.8375" y1="248.72187499999998" x2="357.8375" y2="248.72187499999998" stroke="#000" stroke-width="1.45" />
<text x="353.5" y="329.1" font-size="7" text-anchor="middle" fill="#111" >B</text>
<text x="353.5" y="337.5" font-size="7" text-anchor="middle" fill="#111" >APC</text>
<rect x="375.06" y="291.24" width="11.00" height="25.51" fill="#000"/>
<text x="381.9" y="329.1" font-size="7" text-anchor="middle" fill="#111" >mono</text>
<rect x="400.29" y="238.01" width="11.00" height="78.74" fill="#000"/>
<line x1="405.78749999999997" y1="238.2065625" x2="405.78749999999997" y2="236.4221875" stroke="#000" stroke-width="1.35" />
<line x1="403.28749999999997" y1="236.5221875" x2="408.28749999999997" y2="236.5221875" stroke="#000" stroke-width="1.45" />
<text x="407.4" y="329.1" font-size="7" text-anchor="middle" fill="#111" >mono</text>
<text x="407.4" y="337.5" font-size="7" text-anchor="middle" fill="#111" >DC</text>
<rect x="425.51" y="296.95" width="11.00" height="19.80" fill="#000"/>
<line x1="431.0125" y1="297.1453125" x2="431.0125" y2="296.47" stroke="#000" stroke-width="1.35" />
<line x1="428.5125" y1="296.57000000000005" x2="433.5125" y2="296.57000000000005" stroke="#000" stroke-width="1.45" />
<text x="429.2" y="329.1" font-size="7" text-anchor="middle" font-weight="bold" fill="#111" >T</text>
<text x="429.2" y="337.5" font-size="7" text-anchor="middle" fill="#111" >cell</text>
<rect x="450.74" y="240.22" width="11.00" height="76.53" fill="#000"/>
<line x1="456.23749999999995" y1="240.4246875" x2="456.23749999999995" y2="237.214375" stroke="#000" stroke-width="1.35" />
<line x1="453.73749999999995" y1="237.31437499999998" x2="458.73749999999995" y2="237.31437499999998" stroke="#000" stroke-width="1.45" />
<text x="454.4" y="329.1" font-size="7" text-anchor="middle" fill="#111" >PHA</text>
<text x="454.4" y="337.5" font-size="7" text-anchor="middle" fill="#111" >blast</text>
<rect x="475.96" y="239.27" width="11.00" height="77.48" fill="#000"/>
<line x1="481.4625" y1="239.4740625" x2="481.4625" y2="238.79874999999998" stroke="#000" stroke-width="1.35" />
<line x1="478.9625" y1="238.89874999999998" x2="483.9625" y2="238.89874999999998" stroke="#000" stroke-width="1.45" />
<text x="481.4" y="329.1" font-size="7" text-anchor="middle" fill="#111" >LCL</text>
<text x="481.4" y="337.5" font-size="7" text-anchor="middle" fill="#111" >AHT</text>
<rect x="501.19" y="253.53" width="11.00" height="63.22" fill="#000"/>
<text x="507" y="329.1" font-size="7" text-anchor="middle" fill="#111" >LCL</text>
<text x="507" y="337.5" font-size="7" text-anchor="middle" fill="#111" >FBV</text>
<line x1="338.1" y1="343" x2="497.4" y2="343" stroke="#7a7a7a" stroke-width="1.1" />
<polyline points="344.5,339.9 337.5,343 344.5,346.1" fill="none" stroke="#111" stroke-width="1.0"/>
<polyline points="491.0,339.9 498,343 491.0,346.1" fill="none" stroke="#111" stroke-width="1.0"/>
<text x="401.0" y="352.6" font-size="7.4" textLength="40.5" lengthAdjust="spacingAndGlyphs" fill="#111" >HLA-B5501+</text>
<line x1="317.6" y1="368.45" x2="317.6" y2="495.0" stroke="#2a2a2a" stroke-width="0.7" />
<line x1="317.20000000000005" y1="494.6" x2="520" y2="494.6" stroke="#1a1a1a" stroke-width="0.9" />
<line x1="315.40000000000003" y1="494.6" x2="317.6" y2="494.6" stroke="#111" stroke-width="0.8" />
<text x="309.8" y="496.90000000000003" font-size="7.0" text-anchor="end" fill="#111" >0</text>
<line x1="315.40000000000003" y1="463.13750000000005" x2="317.6" y2="463.13750000000005" stroke="#111" stroke-width="0.8" />
<text x="312.0" y="465.43750000000006" font-size="7.0" text-anchor="end" fill="#111" >200</text>
<line x1="315.40000000000003" y1="431.675" x2="317.6" y2="431.675" stroke="#111" stroke-width="0.8" />
<text x="312.0" y="433.975" font-size="7.0" text-anchor="end" fill="#111" >400</text>
<line x1="315.40000000000003" y1="400.2125" x2="317.6" y2="400.2125" stroke="#111" stroke-width="0.8" />
<text x="312.0" y="402.5125" font-size="7.0" text-anchor="end" fill="#111" >600</text>
<line x1="315.40000000000003" y1="368.75" x2="317.6" y2="368.75" stroke="#111" stroke-width="0.8" />
<text x="312.0" y="371.05" font-size="7.0" text-anchor="end" fill="#111" >800</text>
<line x1="317.15000000000003" y1="467.63750000000005" x2="317.15000000000003" y2="478.63750000000005" stroke="#222" stroke-width="0.7" />
<line x1="317.5" y1="494.6" x2="317.5" y2="496.6" stroke="#111" stroke-width="0.8" />
<line x1="337.68" y1="494.6" x2="337.68" y2="496.6" stroke="#111" stroke-width="0.8" />
<line x1="357.86" y1="494.6" x2="357.86" y2="496.6" stroke="#111" stroke-width="0.8" />
<line x1="378.03999999999996" y1="494.6" x2="378.03999999999996" y2="496.6" stroke="#111" stroke-width="0.8" />
<line x1="398.21999999999997" y1="494.6" x2="398.21999999999997" y2="496.6" stroke="#111" stroke-width="0.8" />
<line x1="418.4" y1="494.6" x2="418.4" y2="496.6" stroke="#111" stroke-width="0.8" />
<line x1="438.58" y1="494.6" x2="438.58" y2="496.6" stroke="#111" stroke-width="0.8" />
<line x1="458.76" y1="494.6" x2="458.76" y2="496.6" stroke="#111" stroke-width="0.8" />
<line x1="478.93999999999994" y1="494.6" x2="478.93999999999994" y2="496.6" stroke="#111" stroke-width="0.8" />
<line x1="499.12" y1="494.6" x2="499.12" y2="496.6" stroke="#111" stroke-width="0.8" />
<line x1="519.3" y1="494.6" x2="519.3" y2="496.6" stroke="#111" stroke-width="0.8" />
<text x="376.4" y="389.6" font-size="9.3" textLength="88.8" lengthAdjust="spacingAndGlyphs" fill="#111" >VZV-IE62/A2 clone 6</text>
<rect x="323.09" y="491.93" width="9.00" height="2.67" fill="#000"/>
<line x1="327.59" y1="492.1256875" x2="327.59" y2="491.2964375" stroke="#000" stroke-width="1.35" />
<line x1="325.09" y1="491.39643750000005" x2="330.09" y2="491.39643750000005" stroke="#000" stroke-width="1.45" />
<text x="326.6" y="507.0" font-size="7" text-anchor="middle" fill="#111" >B</text>
<text x="326.6" y="515.0" font-size="7" text-anchor="middle" fill="#111" >cell</text>
<rect x="343.27" y="483.43" width="9.00" height="11.17" fill="#000"/>
<line x1="347.77" y1="483.6308125" x2="347.77" y2="481.38575000000003" stroke="#000" stroke-width="1.35" />
<line x1="345.27" y1="481.48575000000005" x2="350.27" y2="481.48575000000005" stroke="#000" stroke-width="1.45" />
<text x="346.9" y="507.0" font-size="7" text-anchor="middle" fill="#111" >B</text>
<text x="346.9" y="515.0" font-size="7" text-anchor="middle" fill="#111" >APC</text>
<rect x="363.45" y="493.81" width="9.00" height="0.79" fill="#000"/>
<text x="369.8" y="507.0" font-size="7" text-anchor="middle" fill="#111" >mono</text>
<rect x="383.63" y="429.47" width="9.00" height="65.13" fill="#000"/>
<line x1="388.13" y1="429.672625" x2="388.13" y2="427.8995" stroke="#000" stroke-width="1.35" />
<line x1="385.63" y1="427.9995" x2="390.63" y2="427.9995" stroke="#000" stroke-width="1.45" />
<text x="390.5" y="507.0" font-size="7" text-anchor="middle" fill="#111" >mono</text>
<text x="390.5" y="515.0" font-size="7" text-anchor="middle" fill="#111" >DC</text>
<rect x="403.81" y="484.37" width="9.00" height="10.23" fill="#000"/>
<line x1="408.31" y1="484.57468750000004" x2="408.31" y2="483.74543750000004" stroke="#000" stroke-width="1.35" />
<line x1="405.81" y1="483.84543750000006" x2="410.81" y2="483.84543750000006" stroke="#000" stroke-width="1.45" />
<text x="401.79999999999995" y="507.0" font-size="7" font-weight="bold" textLength="17.3" lengthAdjust="spacingAndGlyphs" fill="#111" >T-cell</text>
<rect x="423.99" y="472.58" width="9.00" height="22.02" fill="#000"/>
<line x1="428.49" y1="472.77625" x2="428.49" y2="471.947" stroke="#000" stroke-width="1.35" />
<line x1="425.99" y1="472.047" x2="430.99" y2="472.047" stroke="#000" stroke-width="1.45" />
<text x="428.8" y="507.0" font-size="7" text-anchor="middle" fill="#111" >PHA</text>
<text x="428.8" y="515.0" font-size="7" text-anchor="middle" fill="#111" >blast</text>
<rect x="444.17" y="493.34" width="9.00" height="1.26" fill="#000"/>
<text x="449.1" y="507.0" font-size="7" text-anchor="middle" fill="#111" >fib</text>
<rect x="464.35" y="488.31" width="9.00" height="6.29" fill="#000"/>
<text x="470.2" y="507.0" font-size="7" text-anchor="middle" fill="#111" >fib</text>
<text x="470.2" y="515.0" font-size="7" text-anchor="middle" fill="#111" >+IFNγ</text>
<rect x="484.53" y="387.00" width="9.00" height="107.60" fill="#000"/>
<line x1="489.03" y1="387.19825" x2="489.03" y2="383.22275" stroke="#000" stroke-width="1.35" />
<line x1="486.53" y1="383.32275000000004" x2="491.53" y2="383.32275000000004" stroke="#000" stroke-width="1.45" />
<text x="489.5" y="507.0" font-size="7" text-anchor="middle" fill="#111" >LCL</text>
<text x="489.5" y="515.0" font-size="7" text-anchor="middle" fill="#111" >RSB</text>
<rect x="504.71" y="392.19" width="9.00" height="102.41" fill="#000"/>
<line x1="509.2099999999999" y1="392.3895625" x2="509.2099999999999" y2="390.77375" stroke="#000" stroke-width="1.35" />
<line x1="506.7099999999999" y1="390.87375000000003" x2="511.7099999999999" y2="390.87375000000003" stroke="#000" stroke-width="1.45" />
<text x="509.9" y="507.0" font-size="7" text-anchor="middle" fill="#111" >LCL</text>
<text x="509.9" y="515.0" font-size="7" text-anchor="middle" fill="#111" >RTN</text>
<line x1="338.1" y1="522.3" x2="497.4" y2="522.3" stroke="#7a7a7a" stroke-width="1.1" />
<polyline points="344.5,519.1999999999999 337.5,522.3 344.5,525.4" fill="none" stroke="#111" stroke-width="1.0"/>
<polyline points="491.0,519.1999999999999 498,522.3 491.0,525.4" fill="none" stroke="#111" stroke-width="1.0"/>
<text x="400.8" y="531.9" font-size="7.4" textLength="40.7" lengthAdjust="spacingAndGlyphs" fill="#111" >HLA-B5701+</text>
<line x1="291.8" y1="391.8" x2="291.8" y2="432.0" stroke="#6a6a6a" stroke-width="1.0" />
<polyline points="287.40000000000003,398.3 291.8,391.3 296.2,398.3" fill="none" stroke="#1a1a1a" stroke-width="0.9"/>
<text transform="translate(294.3,485.8) rotate(-90)" font-size="9.6" textLength="48.3" lengthAdjust="spacingAndGlyphs" fill="#111">IFN<tspan font-size="8.4">γ</tspan> pg/mL</text>
</svg></body></html>
